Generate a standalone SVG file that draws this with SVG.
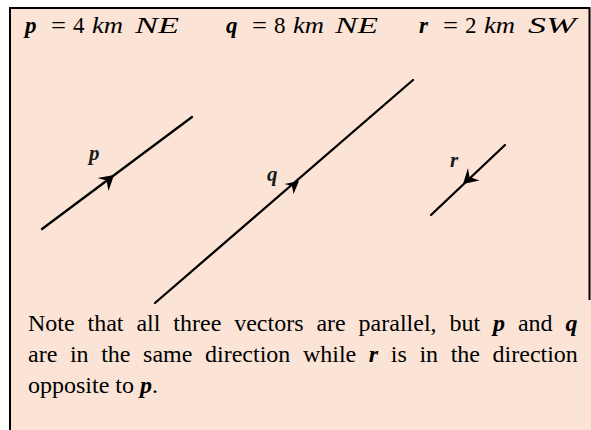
<svg xmlns="http://www.w3.org/2000/svg" width="591" height="430" viewBox="0 0 591 430">
<style>
.hd{font-family:"Liberation Serif","DejaVu Serif",serif;font-size:23px;fill:#000}
.it{font-style:italic}
.bi{font-style:italic;font-weight:bold}
.lbl{font-family:"Liberation Serif","DejaVu Serif",serif;font-size:21px;font-style:italic;font-weight:bold;fill:#1a1a1a}
.body{font-family:"Liberation Serif","Times New Roman",serif;font-size:24px;fill:#000}
.vec{stroke:#000;stroke-width:2.3;fill:none;stroke-linecap:round}
.head{fill:#000;stroke:none}
</style>
<rect x="0" y="0" width="591" height="430" fill="#ffffff"/>
<rect id="box" x="10" y="8" width="581" height="422" fill="#fbe4d6"/>
<path d="M10,430 V8 H589.5 V300" fill="none" stroke="#000" stroke-width="2"/>
<g id="header" class="hd">
<text x="25" y="33" class="bi">p</text>
<text x="51" y="33" textLength="15" lengthAdjust="spacingAndGlyphs">=</text>
<text x="73" y="33">4</text>
<text x="92" y="33" class="it" textLength="31" lengthAdjust="spacingAndGlyphs">km</text>
<text x="135" y="33" class="it" textLength="44" lengthAdjust="spacingAndGlyphs">NE</text>
<text x="226" y="33" class="bi">q</text>
<text x="252" y="33" textLength="15" lengthAdjust="spacingAndGlyphs">=</text>
<text x="274" y="33">8</text>
<text x="293" y="33" class="it" textLength="31" lengthAdjust="spacingAndGlyphs">km</text>
<text x="335" y="33" class="it" textLength="43" lengthAdjust="spacingAndGlyphs">NE</text>
<text x="419" y="33" class="bi">r</text>
<text x="443" y="33" textLength="15" lengthAdjust="spacingAndGlyphs">=</text>
<text x="465" y="33">2</text>
<text x="484" y="33" class="it" textLength="31" lengthAdjust="spacingAndGlyphs">km</text>
<text x="528" y="33" class="it" textLength="48" lengthAdjust="spacingAndGlyphs">SW</text>
</g>
<g id="connectors">
<g id="vector-p">
<line class="vec" x1="42" y1="229" x2="192" y2="117"/>
<path class="head" d="M114,175 L97.5,178 L106.5,180.5 L108.5,191 Z"/>
<text class="lbl" x="89" y="160">p</text>
</g>
<g id="vector-q">
<line class="vec" x1="155" y1="303" x2="413" y2="80"/>
<path class="head" d="M299,181 L284.5,184 L292,186 L293.5,194 Z"/>
<text class="lbl" x="267" y="181">q</text>
</g>
<g id="vector-r">
<line class="vec" x1="431" y1="215" x2="505" y2="145"/>
<path class="head" d="M463,184 L468,168 L469.5,177 L479.5,180.5 Z"/>
<text class="lbl" x="450" y="167">r</text>
</g>
</g>
<g id="note" class="body">
<text x="28" y="331" word-spacing="6.9">Note that all three vectors are parallel, but <tspan class="bi">p</tspan> and <tspan class="bi">q</tspan></text>
<text x="28" y="362" word-spacing="6.6">are in the same direction while <tspan class="bi">r</tspan> is in the direction</text>
<text x="28" y="393">opposite to <tspan class="bi">p</tspan>.</text>
</g>
</svg>
